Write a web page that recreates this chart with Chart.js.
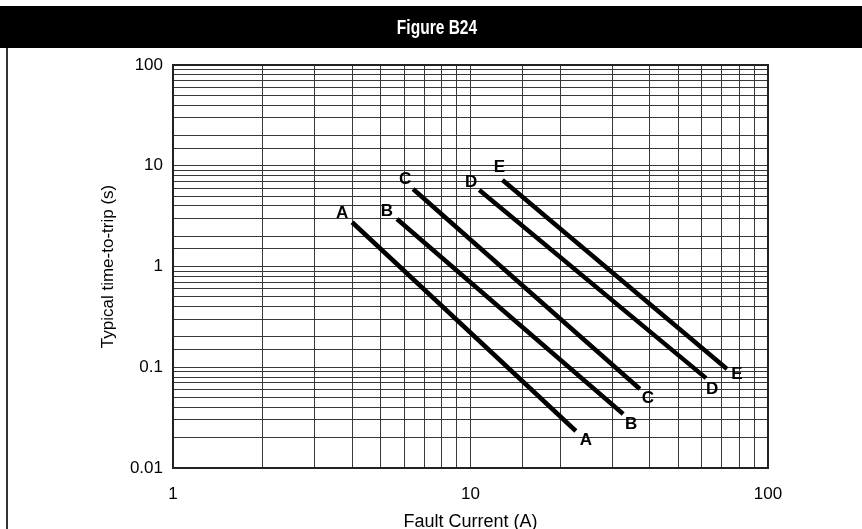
<!DOCTYPE html>
<html>
<head>
<meta charset="utf-8">
<script src="https://cdn.jsdelivr.net/npm/chart.js@4"></script>
<style>
  html, body { margin: 0; padding: 0; background: #fff; }
  #wrap { width: 862px; height: 529px; position: relative; }
</style>
</head>
<body>
<div id="wrap"><canvas id="c" width="862" height="529"></canvas></div>
<script>
// ---- data ----
const chartTitle = 'Figure B24';
const xAxisTitle = 'Fault Current (A)';
const yAxisTitle = 'Typical time-to-trip (s)';
const curveNames = ['A', 'B', 'C', 'D', 'E'];
const currentA = [4.0, 22.6];   const timeA = [2.75, 0.0233];
const currentB = [5.66, 32.6];  const timeB = [2.96, 0.0344];
const currentC = [6.41, 37.1];  const timeC = [5.88, 0.0608];
const currentD = [10.7, 61.9];  const timeD = [5.75, 0.078];
const currentE = [12.8, 72.8];  const timeE = [7.22, 0.096];
const xTickLabels = ['1', '10', '100'];
const yTickLabels = ['0.01', '0.1', '1', '10', '100'];

const currents = [currentA, currentB, currentC, currentD, currentE];
const times = [timeA, timeB, timeC, timeD, timeE];

const FONT = "'Liberation Sans', Arial, sans-serif";

function labelFor(value, labels) {
  const l = Math.log10(value);
  if (Math.abs(l - Math.round(l)) < 1e-6) {
    const found = labels.find(s => Math.abs(Math.log10(parseFloat(s)) - l) < 1e-6);
    return found !== undefined ? found : '';
  }
  return '';
}

const datasets = curveNames.map((name, i) => ({
  label: name,
  data: currents[i].map((x, j) => ({ x: x, y: times[i][j] })),
  showLine: true,
  borderColor: '#000',
  backgroundColor: '#000',
  borderWidth: 4.5,
  pointRadius: 0,
  borderCapStyle: 'butt'
}));

// label offsets (pixels) for start / end annotation of each curve
const labelOffsets = [
  [[-10, -9], [10, 9]],
  [[-10, -8], [8, 10]],
  [[-8, -10], [8, 9]],
  [[-8, -8], [6, 11]],
  [[-3, -13], [10, 5]]
];

const decorPlugin = {
  id: 'decor',
  beforeDraw(chart) {
    const ctx = chart.ctx;
    ctx.save();
    // title bar
    ctx.fillStyle = '#000';
    ctx.fillRect(0, 6, 862, 42);
    ctx.fillStyle = '#fff';
    ctx.font = "bold 21px 'Liberation Sans', Arial, sans-serif";
    ctx.textAlign = 'center';
    ctx.textBaseline = 'middle';
    ctx.translate(437, 28);
    ctx.scale(0.74, 1);
    ctx.fillText(chartTitle, 0, 0);
    ctx.restore();
    ctx.save();
    // left frame line
    ctx.strokeStyle = '#333';
    ctx.lineWidth = 2;
    ctx.beginPath();
    ctx.moveTo(7, 48);
    ctx.lineTo(7, 529);
    ctx.stroke();
    ctx.restore();
  },
  afterDatasetsDraw(chart) {
    const ctx = chart.ctx;
    const a = chart.chartArea;
    ctx.save();
    ctx.strokeStyle = '#222';
    ctx.lineWidth = 2;
    ctx.strokeRect(a.left, a.top, a.right - a.left, a.bottom - a.top);
    // curve labels
    ctx.fillStyle = '#000';
    ctx.font = 'bold 17px ' + FONT;
    ctx.textAlign = 'center';
    ctx.textBaseline = 'middle';
    chart.data.datasets.forEach((ds, i) => {
      const meta = chart.getDatasetMeta(i);
      const pts = meta.data;
      const first = pts[0], last = pts[pts.length - 1];
      const o = labelOffsets[i];
      ctx.fillText(ds.label, first.x + o[0][0], first.y + o[0][1]);
      ctx.fillText(ds.label, last.x + o[1][0], last.y + o[1][1]);
    });
    ctx.restore();
  }
};

new Chart(document.getElementById('c'), {
  type: 'scatter',
  data: { datasets: datasets },
  options: {
    responsive: false,
    animation: false,
    layout: { padding: { left: 0, right: 94, top: 65, bottom: 0 } },
    plugins: { legend: { display: false }, tooltip: { enabled: false } },
    scales: {
      x: {
        type: 'logarithmic',
        min: 1, max: 100,
        afterFit(scale) { scale.height = 61; },
        grid: { color: '#383838', lineWidth: 1, drawTicks: false },
        border: { display: false },
        ticks: {
          autoSkip: false, maxRotation: 0, padding: 16,
          color: '#000', font: { family: FONT, size: 17 },
          callback: (v) => labelFor(v, xTickLabels)
        },
        title: {
          display: true, text: xAxisTitle, color: '#000',
          font: { family: FONT, size: 18, lineHeight: 1 },
          padding: { top: 0, bottom: -2 }
        }
      },
      y: {
        type: 'logarithmic',
        min: 0.01, max: 100,
        afterFit(scale) { scale.width = 173; },
        grid: { color: '#383838', lineWidth: 1, drawTicks: false },
        border: { display: false },
        ticks: {
          autoSkip: false, padding: 10,
          color: '#000', font: { family: FONT, size: 17 },
          callback: (v) => labelFor(v, yTickLabels)
        },
        title: {
          display: true, text: yAxisTitle, color: '#000',
          font: { family: FONT, size: 17, lineHeight: 1 },
          padding: { top: 100, bottom: 0 }
        }
      }
    }
  },
  plugins: [decorPlugin]
});
</script>
</body>
</html>
